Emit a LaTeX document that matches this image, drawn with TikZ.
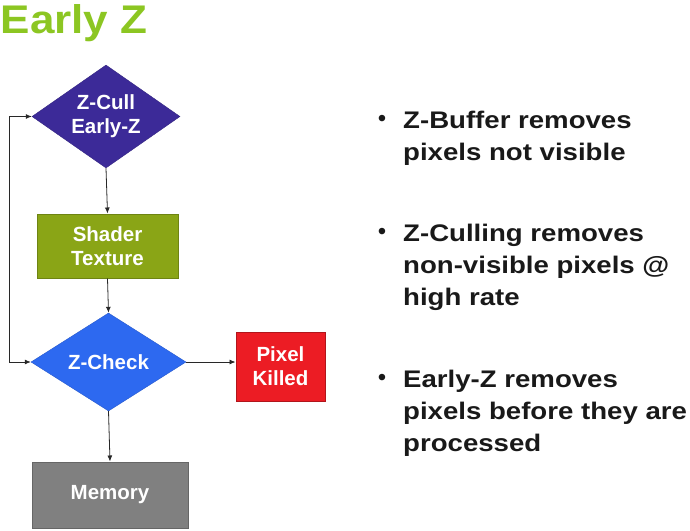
\documentclass[tikz,border=0pt]{standalone}
\usepackage{fontspec}
\setmainfont{Liberation Sans}
\newfontfamily\widefont[FakeStretch=1.15]{Liberation Sans}
\newfontfamily\titlefont[FakeStretch=1.1]{Liberation Sans}
\usetikzlibrary{shapes.geometric,arrows.meta}
\definecolor{titlegreen}{RGB}{140,198,34}
\definecolor{zcullc}{RGB}{60,42,152}
\definecolor{shaderc}{RGB}{138,165,22}
\definecolor{zcheckc}{RGB}{45,105,240}
\definecolor{killedc}{RGB}{236,28,36}
\definecolor{memc}{RGB}{128,128,128}
\definecolor{linec}{RGB}{40,40,40}
\begin{document}
\begin{tikzpicture}[x=1pt,y=-1pt,
  shapetext/.style={text=white, font=\bfseries\fontsize{20.5}{24}\selectfont, align=center, inner sep=0pt},
  dia/.style={shapetext, diamond},
  boxnode/.style={shapetext, rectangle, line width=1pt},
  conn/.style={draw=linec, line width=0.8pt, -{Latex[length=6pt,width=5pt]}},
  bullettext/.style={font=\widefont\bfseries\fontsize{24}{32}\selectfont, text=black!90, align=left, inner sep=0pt, anchor=base west},
  bulletdot/.style={font=\fontsize{24}{24}\selectfont, text=black!90, inner sep=0pt},
]
\useasboundingbox (0,0) rectangle (690,530);

\node[anchor=base west, inner sep=0pt, text=titlegreen, font=\titlefont\bfseries\fontsize{40}{48}\selectfont] (title) at (0.5,33) {Early Z};

\node[dia, fill=zcullc, draw=zcullc!85!black, shape aspect=1.44, minimum width=148, minimum height=103] (zcull) at (106,116.5) {Z-Cull\\Early-Z};
\node[boxnode, fill=shaderc, draw=shaderc!80!black, minimum width=141, minimum height=64] (shader) at (107.5,246) {Shader\\Texture};
\node[dia, fill=zcheckc, draw=zcheckc!85!black, shape aspect=1.58, minimum width=155, minimum height=98] (zcheck) at (108.5,362) {Z-Check};
\node[boxnode, fill=killedc, draw=killedc!75!black, minimum width=89, minimum height=69] (killed) at (280.5,366.5) {Pixel\\Killed};
\node[boxnode, fill=memc, draw=memc!80!black, minimum width=156, minimum height=66] (memory) at (110,495) {Memory};

\coordinate (loopx) at (9,0);
\draw[conn] (zcull.south) -- (shader.north);
\draw[conn] (shader.south) -- (zcheck.north);
\draw[conn] (zcheck.south) -- (memory.north);
\draw[conn] (zcheck.east) -- (zcheck.east -| killed.west);
\draw[conn, {Latex[length=6pt,width=5pt]}-{Latex[length=6pt,width=5pt]}] (zcheck.west) -- (zcheck.west -| loopx) |- (zcull.west);

\node[bulletdot] (d1) at (382,121) {\textbullet};
\node[bullettext] (b1) at (403,160) {Z-Buffer removes\\pixels not visible};
\node[bulletdot] (d2) at (382,234) {\textbullet};
\node[bullettext] (b2) at (403,305) {Z-Culling removes\\non-visible pixels @\\high rate};
\node[bulletdot] (d3) at (382,380) {\textbullet};
\node[bullettext] (b3) at (403,451) {Early-Z removes\\pixels before they are\\processed};
\end{tikzpicture}
\end{document}
